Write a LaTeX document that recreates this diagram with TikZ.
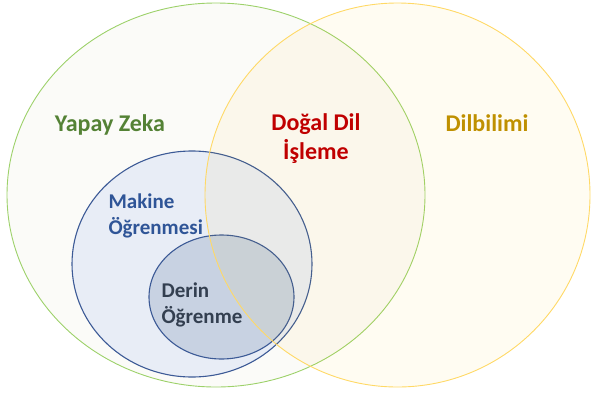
\documentclass[tikz,border=0pt]{standalone}
\usepackage{fontspec}
\setmainfont{Carlito}
\usetikzlibrary{shapes.geometric, positioning}
\definecolor{ailine}{HTML}{9DD16A}
\definecolor{aifill}{HTML}{FBFBF8}
\definecolor{aitext}{HTML}{548235}
\definecolor{lingline}{HTML}{FFD966}
\definecolor{lingfill}{HTML}{FFC000}
\definecolor{lingtext}{HTML}{BF9000}
\definecolor{mlline}{HTML}{3C5A96}
\definecolor{mlfill}{HTML}{E8EDF6}
\definecolor{mltext}{HTML}{2F5597}
\definecolor{dlfill}{HTML}{C8D2E2}
\definecolor{dltext}{HTML}{333F50}
\definecolor{nlptext}{HTML}{C00000}

\begin{document}
\begin{tikzpicture}
	[x=1pt, y=-1pt,
	 set/.style={ellipse, inner sep=0pt, line width=0.9pt},
	 big/.style={font=\bfseries\fontsize{24}{29}\selectfont, align=center, anchor=base},
	 small/.style={font=\bfseries\fontsize{21}{26}\selectfont, align=left, anchor=base west}]
   \useasboundingbox (0,0) rectangle (591,394);
   % sets
   \node[set, draw=ailine, fill=aifill, minimum width=418pt, minimum height=384pt] (ai) at (216,195) {};
   \node[set, draw=mlline, fill=mlfill, line width=1.1pt, minimum width=240pt, minimum height=226pt] (ml) at (192,264) {};
   \node[set, draw=mlline, fill=dlfill, line width=1.1pt, minimum width=145pt, minimum height=124pt] (dl) at (221.5,297) {};
   \node[set, draw=lingline, fill=lingfill, fill opacity=0.05, minimum width=385pt, minimum height=384pt] (ling) at (397.5,195) {};
   % labels (base = last line)
   \node[big, text=aitext] (aiLbl) at (110,131) {Yapay Zeka};
   \node[big, text=nlptext] (nlpLbl) at (316,159) {Doğal Dil\\İşleme};
   \node[big, text=lingtext] (lingLbl) at (487,131) {Dilbilimi};
   \node[small, text=mltext] (mlLbl) at (105,234) {Makine\\Öğrenmesi};
   \node[small, text=dltext] (dlLbl) at (158,323) {Derin\\Öğrenme};
\end{tikzpicture}
\end{document}
